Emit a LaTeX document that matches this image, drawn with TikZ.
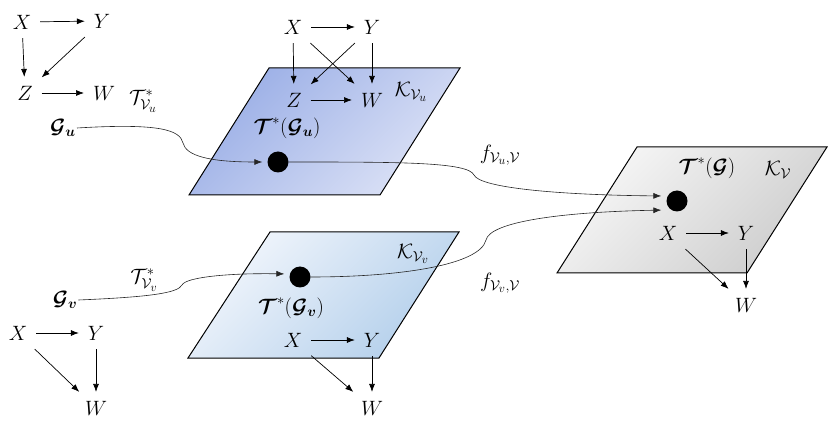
\documentclass[tikz,border=0pt]{standalone}
\usepackage{amsmath,bm}
\usetikzlibrary{arrows.meta}
\definecolor{blueA}{HTML}{9AAEE6}
\definecolor{blueB}{HTML}{DCE2F6}
\definecolor{lblueA}{HTML}{F2F6FC}
\definecolor{lblueB}{HTML}{B3CFEB}
\definecolor{grayA}{HTML}{F7F7F7}
\definecolor{grayB}{HTML}{CDCDCD}
\begin{document}
\begin{tikzpicture}[x=1pt,y=-1pt,
  lbl/.style={font=\huge, inner sep=1pt},
  vtx/.style={font=\huge, inner sep=1pt, outer sep=8pt},
  arr/.style={-{Latex[length=8pt,width=6pt]}, line width=0.7pt},
  conn/.style={-{Latex[length=8pt,width=6pt]}, line width=0.6pt, black!85, shorten >=5pt},
  dot/.style={circle, fill=black, minimum size=21pt, inner sep=0pt},
  plane/.style={draw=black, line width=1pt}]
\useasboundingbox (0,0) rectangle (830,430);

% planes
\path[plane, top color=blueA, bottom color=blueB, shading angle=45]
  (269,68) -- (460,68) -- (380,195) -- (189,195) -- cycle;
\path[plane, top color=lblueA, bottom color=lblueB, shading angle=45]
  (270,232) -- (459,232) -- (379,358) -- (188,358) -- cycle;
\path[plane, top color=grayA, bottom color=grayB, shading angle=45]
  (637,147) -- (827,147) -- (747,273) -- (557,273) -- cycle;

% top-left graph
\node[vtx] (x1) at (22,22) {$X$};
\node[vtx] (y1) at (102,21) {$Y$};
\node[vtx] (z1) at (25,93) {$Z$};
\node[vtx] (w1) at (104,93) {$W$};
\draw[arr] (x1) -- (y1);
\draw[arr] (x1) -- (z1);
\draw[arr] (y1) -- (z1);
\draw[arr] (z1) -- (w1);
\node[lbl] (gu) at (63,128) {$\bm{\mathcal{G}_u}$};
\node[lbl] (tu) at (143,101) {$\mathcal{T}^*_{\mathcal{V}_u}$};

% top plane graph
\node[vtx] (x2) at (293,27) {$X$};
\node[vtx] (y2) at (372,27) {$Y$};
\node[vtx] (z2) at (294,100) {$Z$};
\node[vtx] (w2) at (372,100) {$W$};
\draw[arr] (x2) -- (y2);
\draw[arr] (x2) -- (z2);
\draw[arr] (y2) -- (w2);
\draw[arr] (x2) -- (w2);
\draw[arr] (y2) -- (z2);
\draw[arr] (z2) -- (w2);
\node[lbl] (ku) at (411,92) {$\mathcal{K}_{\mathcal{V}_u}$};
\node[lbl] (tgu) at (287,128) {$\bm{\mathcal{T}}^*(\bm{\mathcal{G}_u})$};
\node[dot] (du) at (278,162) {};

% right plane
\node[lbl] (tg) at (707,168) {$\bm{\mathcal{T}}^*(\bm{\mathcal{G}})$};
\node[lbl] (kv) at (778,170) {$\mathcal{K}_{\mathcal{V}}$};
\node[dot] (d) at (677,201) {};
\node[vtx] (x3) at (668,233) {$X$};
\node[vtx] (y3) at (746,233) {$Y$};
\node[vtx] (w3) at (746,305) {$W$};
\draw[arr] (x3) -- (y3);
\draw[arr] (x3) -- (w3);
\draw[arr] (y3) -- (w3);

% bottom plane
\node[lbl] (kvv) at (413,254) {$\mathcal{K}_{\mathcal{V}_v}$};
\node[dot] (dv) at (300,277) {};
\node[lbl] (tgv) at (291,308) {$\bm{\mathcal{T}}^*(\bm{\mathcal{G}_v})$};
\node[vtx] (x4) at (293,340) {$X$};
\node[vtx] (y4) at (372,340) {$Y$};
\node[vtx] (w4) at (372,408) {$W$};
\draw[arr] (x4) -- (y4);
\draw[arr] (x4) -- (w4);
\draw[arr] (y4) -- (w4);

% bottom-left graph
\node[lbl] (gv) at (65,300) {$\bm{\mathcal{G}_v}$};
\node[lbl] (tv) at (144,280) {$\mathcal{T}^*_{\mathcal{V}_v}$};
\node[vtx] (x5) at (18,333) {$X$};
\node[vtx] (y5) at (96,333) {$Y$};
\node[vtx] (w5) at (96,408) {$W$};
\draw[arr] (x5) -- (y5);
\draw[arr] (x5) -- (w5);
\draw[arr] (y5) -- (w5);

% function labels
\node[lbl] (fu) at (500,155) {$f_{\mathcal{V}_u,\mathcal{V}}$};
\node[lbl] (fv) at (500,283) {$f_{\mathcal{V}_v,\mathcal{V}}$};

% curved connectors
\draw[conn] (gu.east) .. controls (160,123) and (180,130) .. (183,143)
  .. controls (186,156) and (210,162) .. (du.west);
\draw[conn] (du.east) .. controls (400,162) and (468,162) .. (474,175)
  .. controls (480,188) and (560,195) .. ([yshift=5pt]d.west);
\draw[conn] (gv.east) .. controls (150,297) and (178,293) .. (182,285)
  .. controls (186,277) and (230,273) .. ([yshift=3pt]dv.west);
\draw[conn] (dv.east) .. controls (400,277) and (480,265) .. (486,240)
  .. controls (490,222) and (560,212) .. ([yshift=-9pt]d.west);
\end{tikzpicture}
\end{document}
